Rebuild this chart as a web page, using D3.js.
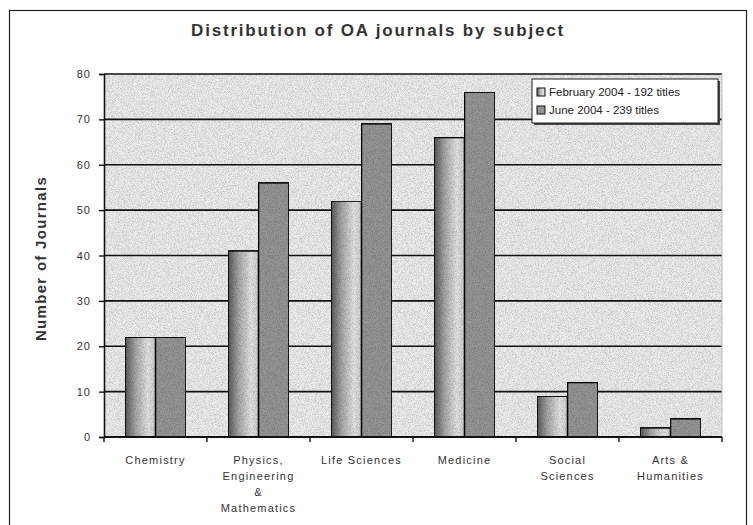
<!DOCTYPE html>
<html>
<head>
<meta charset="utf-8">
<script src="https://cdn.jsdelivr.net/npm/d3@7"></script>
<style>
  body { margin: 0; background: #fff; }
  text { font-family: "Liberation Sans", Arial, sans-serif; }
</style>
</head>
<body>
<script>
// chart data
var subjects = ["Chemistry", "Physics, Engineering & Mathematics", "Life Sciences", "Medicine", "Social Sciences", "Arts & Humanities"];
var subjectLines = [["Chemistry"], ["Physics,", "Engineering", "&", "Mathematics"], ["Life Sciences"], ["Medicine"], ["Social", "Sciences"], ["Arts &", "Humanities"]];
var febValues = [22, 41, 52, 66, 9, 2];
var juneValues = [22, 56, 69, 76, 12, 4];
var seriesNames = ["February 2004 - 192 titles", "June 2004 - 239 titles"];
var yTicks = [0, 10, 20, 30, 40, 50, 60, 70, 80];

var W = 753, H = 525;
var margin = {top: 74, right: 31, bottom: 88, left: 104},
width = W - margin.left - margin.right,
height = H - margin.top - margin.bottom;

var svg = d3.select("body").append("svg")
  .attr("width", W)
  .attr("height", H);

var defs = svg.append("defs");

// gradient for february bars
var grad = defs.append("linearGradient").attr("id", "febGrad")
  .attr("x1", "0%").attr("x2", "100%").attr("y1", "0%").attr("y2", "0%");
grad.append("stop").attr("offset", "0%").attr("stop-color", "#585858");
grad.append("stop").attr("offset", "35%").attr("stop-color", "#a8a8a8");
grad.append("stop").attr("offset", "75%").attr("stop-color", "#e4e4e4");
grad.append("stop").attr("offset", "100%").attr("stop-color", "#cdcdcd");

// grainy texture to imitate the scan
var noise = defs.append("filter").attr("id", "grain")
  .attr("x", 0).attr("y", 0).attr("width", "100%").attr("height", "100%");
noise.append("feTurbulence").attr("type", "fractalNoise").attr("baseFrequency", 1.3).attr("numOctaves", 1).attr("seed", 3).attr("result", "n");
noise.append("feColorMatrix").attr("in", "n").attr("type", "matrix")
  .attr("values", "0 0 0 0 0  0 0 0 0 0  0 0 0 0 0  0 0 0 -0.9 0.55").attr("result", "a");
noise.append("feComposite").attr("in", "a").attr("in2", "SourceGraphic").attr("operator", "in").attr("result", "dots");
noise.append("feMerge").selectAll("feMergeNode").data(["SourceGraphic", "dots"]).enter()
  .append("feMergeNode").attr("in", function(d) { return d; });

// outer frame
svg.append("rect")
  .attr("x", 9.5).attr("y", 10.5)
  .attr("width", 737).attr("height", 530)
  .attr("fill", "#fff").attr("stroke", "#222").attr("stroke-width", 1.2);

// title
svg.append("text")
  .attr("x", 378).attr("y", 36)
  .attr("text-anchor", "middle")
  .attr("font-size", 17)
  .attr("font-weight", "bold")
  .attr("letter-spacing", 1.8)
  .attr("fill", "#333")
  .text("Distribution of OA journals by subject");

var g = svg.append("g")
  .attr("transform", "translate(" + margin.left + "," + margin.top + ")");

var x0 = d3.scaleBand().domain(subjects).range([0, width]).paddingInner(0.41).paddingOuter(0.205);
var x1 = d3.scaleBand().domain([0, 1]).range([0, x0.bandwidth()]);
var xCat = d3.scaleBand().domain(subjects).range([0, width]);
var y = d3.scaleLinear().domain([0, 80]).range([height, 0]);

// plot background
g.append("rect")
  .attr("width", width).attr("height", height)
  .attr("fill", "#ececec")
  .attr("filter", "url(#grain)");

// gridlines
g.selectAll(".grid")
  .data(yTicks.filter(function(d) { return d > 0; }))
  .enter().append("line")
  .attr("x1", 0).attr("x2", width)
  .attr("y1", function(d) { return y(d); })
  .attr("y2", function(d) { return y(d); })
  .attr("stroke", "#111").attr("stroke-width", 1.6);

// right edge of plot
g.append("line")
  .attr("x1", width).attr("x2", width).attr("y1", 0).attr("y2", height)
  .attr("stroke", "#bbb").attr("stroke-width", 1);

// bars
var groups = g.selectAll(".grp")
  .data(subjects)
  .enter().append("g")
  .attr("transform", function(d) { return "translate(" + x0(d) + ",0)"; });

groups.append("rect")
  .attr("x", x1(0))
  .attr("y", function(d, i) { return y(febValues[i]); })
  .attr("width", x1.bandwidth())
  .attr("height", function(d, i) { return height - y(febValues[i]); })
  .attr("fill", "url(#febGrad)")
  .attr("filter", "url(#grain)")
  .attr("stroke", "#111").attr("stroke-width", 1.6);

groups.append("rect")
  .attr("x", x1(1))
  .attr("y", function(d, i) { return y(juneValues[i]); })
  .attr("width", x1.bandwidth())
  .attr("height", function(d, i) { return height - y(juneValues[i]); })
  .attr("fill", "#959595")
  .attr("filter", "url(#grain)")
  .attr("stroke", "#111").attr("stroke-width", 1.6);

// y axis
var yAxis = d3.axisLeft(y).tickValues(yTicks).tickSize(5).tickPadding(8);
var ya = g.append("g").call(yAxis);
ya.select(".domain").attr("stroke", "#111").attr("stroke-width", 1.6);
ya.selectAll(".tick line").attr("stroke", "#111").attr("stroke-width", 1.4);
ya.selectAll(".tick text").attr("font-size", 11).attr("fill", "#333")
  .attr("letter-spacing", 1)
  .attr("font-family", "Liberation Sans, Arial, sans-serif");

// x axis with ticks at category boundaries
var xa = g.append("g").attr("transform", "translate(0," + height + ")");
xa.append("line").attr("x1", 0).attr("x2", width).attr("stroke", "#111").attr("stroke-width", 1.8);
xa.selectAll(".xt")
  .data(subjects.concat(["end"]))
  .enter().append("line")
  .attr("x1", function(d, i) { return i * xCat.step(); })
  .attr("x2", function(d, i) { return i * xCat.step(); })
  .attr("y1", 0).attr("y2", 5)
  .attr("stroke", "#111").attr("stroke-width", 1.4);

xa.selectAll(".xl")
  .data(subjects)
  .enter().append("text")
  .attr("text-anchor", "middle")
  .attr("font-size", 11)
  .attr("letter-spacing", 1.2)
  .attr("fill", "#333")
  .attr("transform", function(d) { return "translate(" + (xCat(d) + xCat.bandwidth() / 2) + ",0)"; })
  .each(function(d, i) {
    var t = d3.select(this);
    subjectLines[i].forEach(function(line, k) {
      t.append("tspan").attr("x", 0).attr("y", 27 + k * 16).text(line);
    });
  });

// y axis title
svg.append("text")
  .attr("transform", "translate(46," + (margin.top + height / 2 + 3) + ") rotate(-90)")
  .attr("text-anchor", "middle")
  .attr("font-size", 15)
  .attr("font-weight", "bold")
  .attr("letter-spacing", 1.3)
  .attr("fill", "#333")
  .text("Number of Journals");

// legend
var lg = svg.append("g").attr("transform", "translate(532,79)");
lg.append("rect").attr("x", 2).attr("y", 2).attr("width", 186).attr("height", 44).attr("fill", "#444");
lg.append("rect").attr("width", 186).attr("height", 44)
  .attr("fill", "#fff").attr("stroke", "#222").attr("stroke-width", 1);
var fills = ["url(#febGrad)", "#959595"];
seriesNames.forEach(function(name, i) {
  lg.append("rect")
    .attr("x", 5).attr("y", 9 + i * 18)
    .attr("width", 8).attr("height", 8)
    .attr("fill", fills[i])
    .attr("stroke", "#111").attr("stroke-width", 1);
  lg.append("text")
    .attr("x", 17).attr("y", 17 + i * 18)
    .attr("font-size", 11.5)
    .attr("fill", "#222")
    .text(name);
});
</script>
</body>
</html>
